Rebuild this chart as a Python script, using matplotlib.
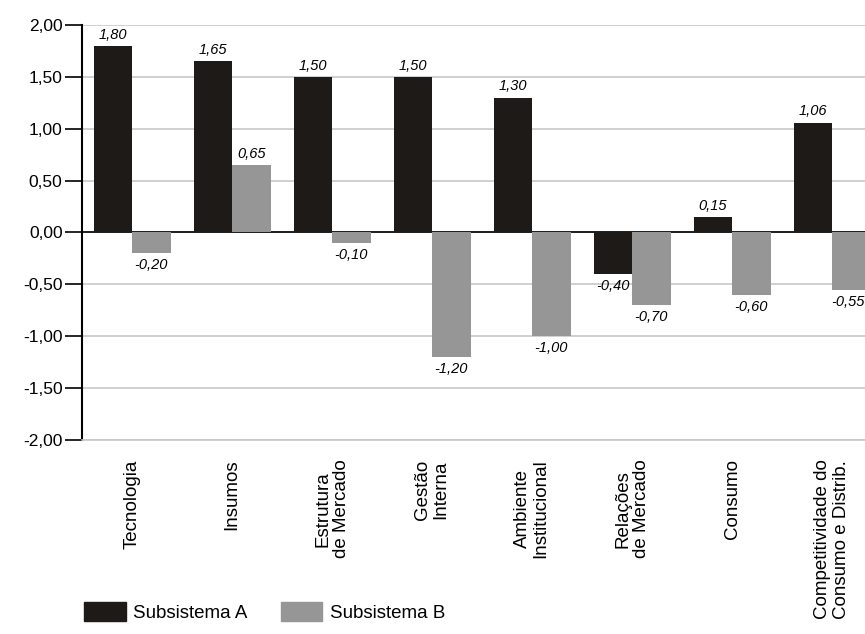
import matplotlib.pyplot as plt
import numpy as np
from matplotlib.patches import Patch
from matplotlib.ticker import FuncFormatter

plt.rcParams['font.family'] = ['Liberation Sans', 'DejaVu Sans']

# -------- Data --------
categories = ["Tecnologia", "Insumos", "Estrutura\nde Mercado", "Gestão\nInterna",
              "Ambiente\nInstitucional", "Relações\nde Mercado", "Consumo",
              "Competitividade do\nConsumo e Distrib."]
subsistema_a = [1.80, 1.65, 1.50, 1.50, 1.30, -0.40, 0.15, 1.06]
subsistema_b = [-0.20, 0.65, -0.10, -1.20, -1.00, -0.70, -0.60, -0.55]

COLOR_A = "#1e1a17"
COLOR_B = "#969696"
WIDTH = 0.385
XMAX = 7.33

def fmt(v):
    return f"{v:.2f}".replace(".", ",")

fig = plt.figure(figsize=(8.65, 6.34), dpi=100)
ax = fig.add_axes([0.0948, 0.306, 0.9052, 0.6546])

x = np.arange(len(categories))
ax.bar(x - WIDTH / 2, subsistema_a, WIDTH, color=COLOR_A, zorder=3)
ax.bar(x + WIDTH / 2, subsistema_b, WIDTH, color=COLOR_B, zorder=3)

# value labels (keep the last one inside the figure)
for xi, va, vb in zip(x, subsistema_a, subsistema_b):
    for pos, v in ((xi - WIDTH / 2, va), (xi + WIDTH / 2, vb)):
        off = 0.04 if v >= 0 else -0.05
        pos = min(pos, XMAX - 0.17)
        ax.text(pos, v + off, fmt(v), ha="center", va="bottom" if v >= 0 else "top",
                fontsize=10.5, style="italic", zorder=4)

ax.set_ylim(-2, 2)
ax.set_xlim(-0.5, XMAX)
ax.set_yticks(np.arange(-2, 2.01, 0.5))
ax.yaxis.set_major_formatter(FuncFormatter(lambda v, p: fmt(v)))
ax.tick_params(axis="y", labelsize=12.5, length=12, width=1.2, direction="out", pad=2)
ax.grid(axis="y", color="#c8c8c8", linewidth=1.2, zorder=0)
ax.axhline(0, color="black", linewidth=1.2, zorder=2)

ax.set_xticks(x)
ax.set_xticklabels(categories, rotation=90, fontsize=13.5, va="top", ha="center",
                   linespacing=1.1)
ax.tick_params(axis="x", length=0, pad=14)

for side in ("top", "right"):
    ax.spines[side].set_visible(False)
ax.spines["left"].set_linewidth(1.5)
ax.spines["bottom"].set_color("#c8c8c8")
ax.spines["bottom"].set_linewidth(1.2)

handles = [Patch(color=COLOR_A, label="Subsistema A"),
           Patch(color=COLOR_B, label="Subsistema B")]
fig.legend(handles=handles, loc="lower left", bbox_to_anchor=(0.078, -0.008),
           ncol=2, frameon=False, fontsize=13.5, handlelength=2.2, handleheight=1.2,
           columnspacing=1.8, handletextpad=0.4)

fig.savefig("out.png", dpi=100)
